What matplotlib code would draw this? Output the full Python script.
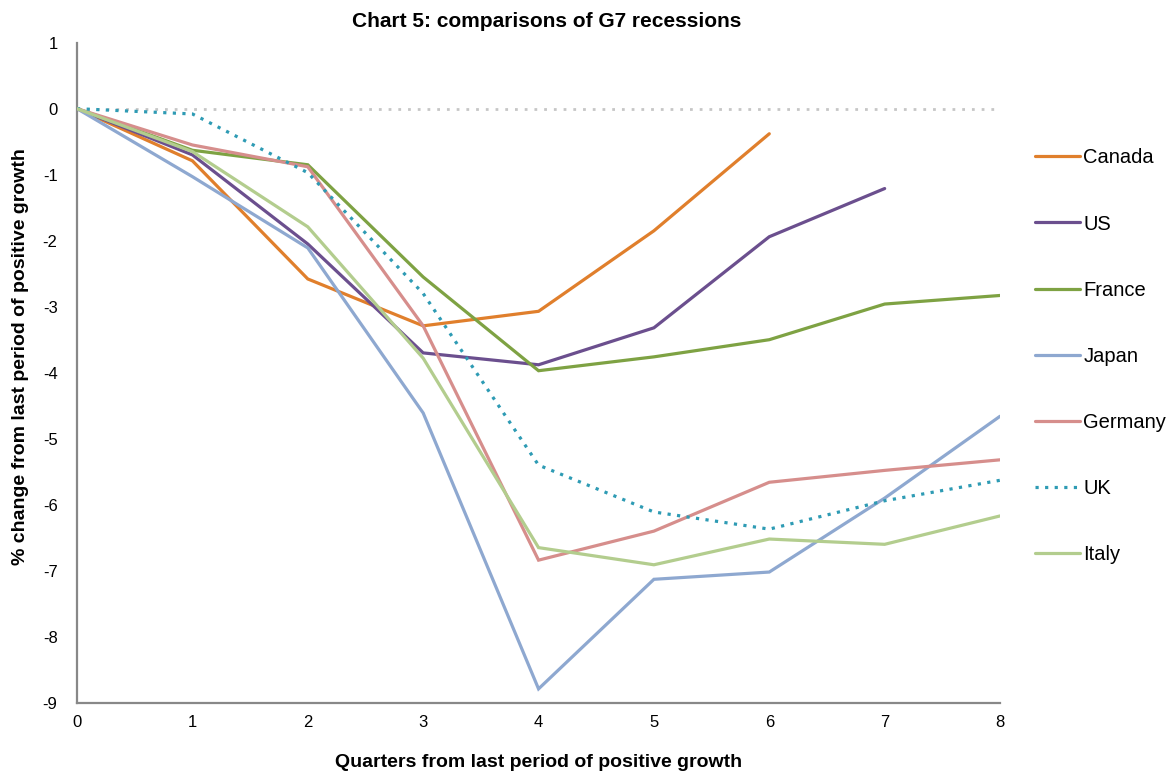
import matplotlib
matplotlib.use("Agg")
import matplotlib.pyplot as plt

plt.rcParams['font.family'] = ['Liberation Sans', 'DejaVu Sans']
plt.rcParams['axes.unicode_minus'] = False

quarters = [0, 1, 2, 3, 4, 5, 6, 7, 8]
canada = [0, -0.79, -2.58, -3.29, -3.07, -1.85, -0.38]
us = [0, -0.70, -2.05, -3.70, -3.88, -3.32, -1.94, -1.21]
france = [0, -0.63, -0.85, -2.55, -3.97, -3.76, -3.50, -2.96, -2.83]
japan = [0, -1.03, -2.11, -4.61, -8.79, -7.13, -7.02, -5.90, -4.66]
germany = [0, -0.55, -0.88, -3.29, -6.84, -6.40, -5.66, -5.48, -5.32]
uk = [0, -0.08, -0.97, -2.80, -5.40, -6.11, -6.37, -5.94, -5.63]
italy = [0, -0.65, -1.79, -3.78, -6.65, -6.91, -6.52, -6.60, -6.17]

series = [
    ("Canada", canada, "#E07F2C", "-"),
    ("US", us, "#6B4F8E", "-"),
    ("France", france, "#7EA243", "-"),
    ("Japan", japan, "#8EA8D0", "-"),
    ("Germany", germany, "#D68E8C", "-"),
    ("UK", uk, "#2E9BB4", (0, (1, 2))),
    ("Italy", italy, "#B3CD8E", "-"),
]

fig = plt.figure(figsize=(11.71, 7.73), dpi=100)
ax = fig.add_axes([0.0658, 0.0909, 0.7882, 0.8539])

# zero reference line
ax.plot([quarters[0], quarters[-1]], [0, 0], color="#C6C6C6", lw=2.0,
        linestyle=(0, (1, 2.5)), zorder=1)

for name, vals, color, ls in series:
    ax.plot(quarters[:len(vals)], vals, color=color, lw=2.3, linestyle=ls,
            label=name, solid_capstyle="round", solid_joinstyle="miter", zorder=3)

ax.set_xlim(0, 8)
ax.set_ylim(-9, 1)
ax.set_xticks(quarters)
ax.set_yticks(range(-9, 2))
ax.tick_params(length=0, labelsize=12, pad=9)
ax.tick_params(axis='y', pad=14)
for s in ("top", "right"):
    ax.spines[s].set_visible(False)
for s in ("left", "bottom"):
    ax.spines[s].set_color("#888888")
    ax.spines[s].set_linewidth(1.6)

ax.set_title("Chart 5: comparisons of G7 recessions", fontsize=15,
             fontweight="bold", pad=11, x=0.509)
ax.set_xlabel("Quarters from last period of positive growth", fontsize=14,
              fontweight="bold", labelpad=17)
ax.set_ylabel("% change from last period of positive growth", fontsize=14,
              fontweight="bold")
ax.yaxis.set_label_coords(-0.052, 0.524)

leg = fig.legend(loc="upper left", bbox_to_anchor=(0.884, 0.808),
                 frameon=False, fontsize=14.5, handlelength=2.25,
                 handletextpad=0.15, labelspacing=2.34, borderpad=0,
                 borderaxespad=0)

fig.savefig("out.png", dpi=100)
